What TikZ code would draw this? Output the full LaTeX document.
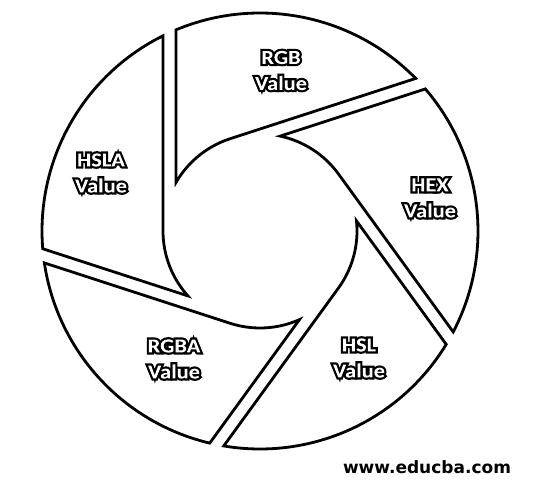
\documentclass[tikz,border=0pt]{standalone}
\usepackage{fontspec}
\newfontfamily\labelfont[FakeStretch=1.12]{Carlito}
\newfontfamily\wmfont{DejaVu Sans}
\makeatletter
\newcommand{\olt}[1]{\pgfsys@invoke{q 0 G 6 Tr 4.4 w}#1\pgfsys@invoke{1 g -20000 -20000 40000 40000 re f Q}}
\makeatother
\tikzset{
  bladeline/.style={draw=black, line width=2.8pt, fill=white, line join=miter, miter limit=20},
  bladelabel/.style={text=white, align=center, font=\labelfont\bfseries\fontsize{20}{26}\selectfont, inner sep=0pt},
  watermark/.style={text=black, font=\wmfont\bfseries\fontsize{17}{20}\selectfont, inner sep=0pt, anchor=base}
}
\newcommand{\blade}[1]{%
  \draw[bladeline] ({#1+4.67}:218) arc[start angle={#1+4.67}, end angle={#1-63.58}, radius=218]
    -- ({#1}:97) arc[start angle={#1}, end angle={#1+42}, radius=97] -- cycle;}
\begin{document}
\begin{tikzpicture}[x=1pt,y=1pt]
\useasboundingbox (0,0) rectangle (535,491);
\fill[white] (0,0) rectangle (535,491);
\begin{scope}[shift={(260,260)}]
  \blade{180}
  \blade{108}
  \blade{36}
  \blade{-36}
  \blade{-108}
\end{scope}
\node[bladelabel] (rgb) at (281,420.5) {\olt{RGB}\\\olt{Value}};
\node[bladelabel] (hex) at (430,293) {\olt{HEX}\\\olt{Value}};
\node[bladelabel] (hsl) at (359,133) {\olt{HSL}\\\olt{Value}};
\node[bladelabel] (rgba) at (174,132) {\olt{RGBA}\\\olt{Value}};
\node[bladelabel] (hsla) at (101,318) {\olt{HSLA}\\\olt{Value}};
\node[watermark] (wm) at (427,18) {www.educba.com};
\end{tikzpicture}
\end{document}
